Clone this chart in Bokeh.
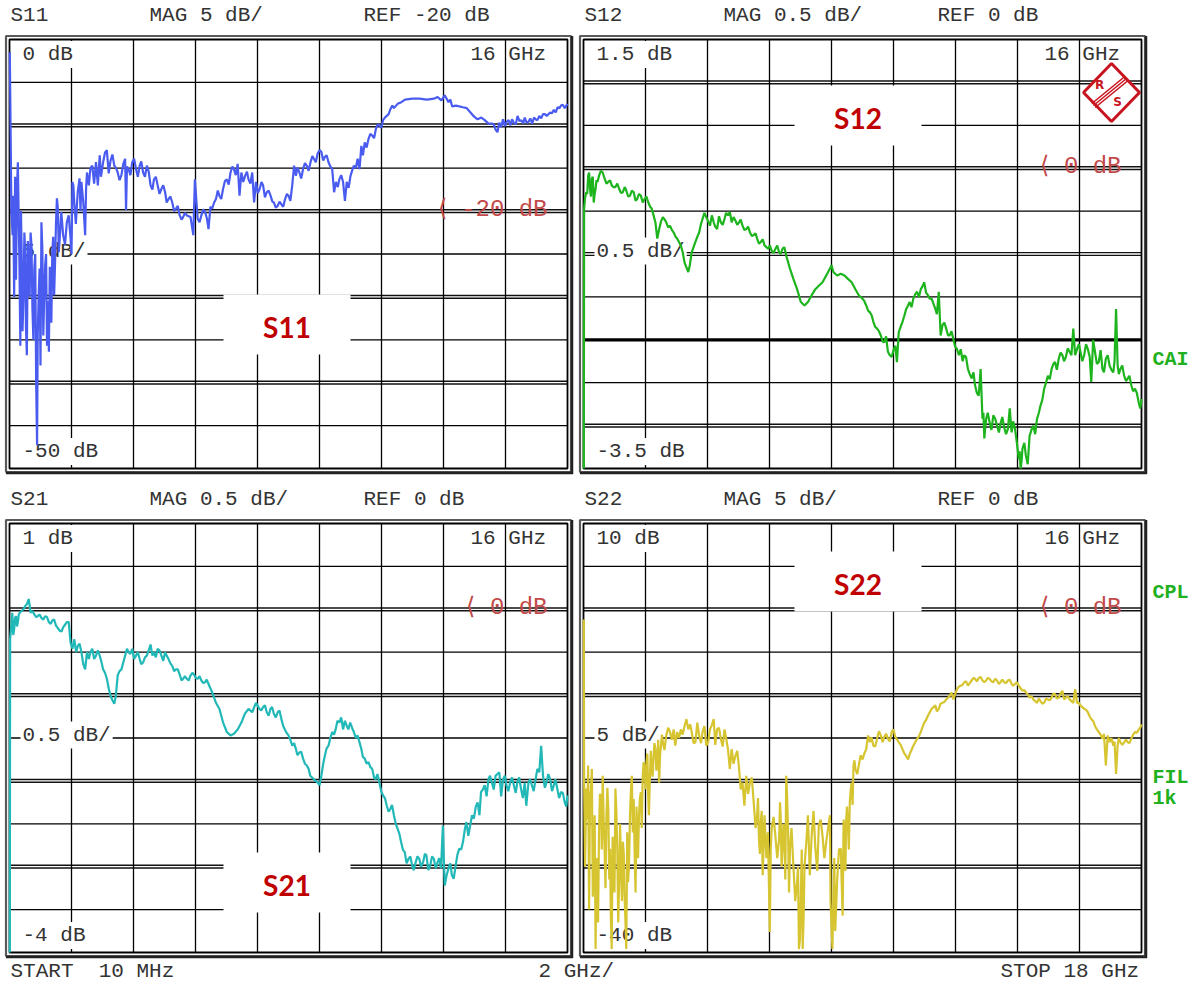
from bokeh.plotting import figure
from bokeh.models import Range1d, Label
from bokeh.embed import file_html
from bokeh.resources import INLINE

# ---------------- data (frequency GHz, magnitude dB) ----------------
S11_POINTS = [
    (0.01, -1.5), (0.04, -12.0), (0.10, -22.8), (0.12, -18.2), (0.27, -14.3), (0.30, -21.7),
    (0.35, -35.7), (0.39, -24.4), (0.45, -30.2), (0.51, -25.2), (0.56, -36.8), (0.62, -26.0),
    (0.68, -22.5), (0.74, -31.4), (0.80, -26.7), (0.86, -40.0), (0.89, -47.3), (0.91, -34.5),
    (0.97, -26.7), (1.03, -21.3), (1.09, -34.5), (1.15, -26.3), (1.21, -35.7), (1.27, -36.4),
    (1.32, -29.8), (1.38, -24.8), (1.44, -29.8), (1.50, -21.3), (1.56, -19.7), (1.62, -23.2),
    (1.73, -22.8), (1.85, -21.3), (1.97, -23.2), (2.03, -16.6), (2.09, -19.0), (2.20, -17.8),
    (2.32, -16.6), (2.38, -19.0), (2.44, -22.8), (2.50, -15.5), (2.56, -17.0), (2.67, -14.7),
    (2.79, -14.3), (2.85, -17.0), (2.91, -13.5), (3.02, -14.3), (3.14, -12.9), (3.26, -14.1),
    (3.38, -14.7), (3.49, -15.5), (3.61, -15.8), (3.73, -13.9), (3.76, -19.9), (3.84, -15.1),
    (3.96, -14.3), (4.08, -15.1), (4.20, -14.7), (4.31, -15.5), (4.43, -14.7), (4.55, -17.0),
    (4.66, -16.3), (4.78, -17.0), (4.90, -17.4), (5.02, -17.8), (5.13, -18.6), (5.25, -19.0),
    (5.37, -19.7), (5.49, -20.5), (5.60, -20.7), (5.72, -20.5), (5.84, -20.7), (5.93, -22.8),
    (5.98, -16.3), (6.07, -20.9), (6.19, -20.5), (6.31, -20.1), (6.42, -22.1), (6.54, -19.7),
    (6.66, -18.6), (6.77, -18.2), (6.89, -17.4), (7.01, -16.3), (7.13, -15.5), (7.24, -15.1),
    (7.36, -14.5), (7.42, -18.2), (7.48, -15.5), (7.60, -15.9), (7.71, -16.3), (7.83, -15.5),
    (7.89, -19.0), (7.95, -16.6), (8.07, -17.4), (8.18, -17.0), (8.30, -17.8), (8.42, -18.2),
    (8.53, -19.0), (8.65, -19.4), (8.77, -19.2), (8.89, -18.6), (9.00, -18.2), (9.12, -17.0),
    (9.18, -14.7), (9.24, -15.9), (9.35, -15.5), (9.47, -15.1), (9.59, -14.7), (9.71, -14.3),
    (9.82, -13.9), (9.94, -13.3), (10.06, -13.1), (10.17, -13.7), (10.29, -14.3), (10.41, -15.1),
    (10.47, -17.8), (10.53, -16.6), (10.64, -16.3), (10.76, -16.6), (10.82, -18.8), (10.88, -16.6),
    (11.00, -15.9), (11.11, -14.7), (11.23, -13.9), (11.29, -15.1), (11.35, -12.4), (11.40, -13.5),
    (11.46, -12.0), (11.58, -11.6), (11.70, -11.2), (11.82, -10.4), (11.93, -10.0), (12.05, -9.4),
    (12.17, -8.9), (12.29, -8.1), (12.35, -7.7), (12.40, -8.0), (12.52, -7.5), (12.64, -7.3),
    (12.76, -7.0), (12.99, -6.9), (13.23, -6.9), (13.46, -7.0), (13.69, -6.9), (13.81, -6.7),
    (13.93, -7.1), (14.04, -6.5), (14.16, -7.3), (14.40, -7.7), (14.63, -7.9), (14.87, -8.5),
    (15.10, -9.3), (15.33, -9.4), (15.57, -9.8), (15.74, -10.8), (15.80, -9.7), (16.04, -9.6),
    (16.27, -9.7), (16.39, -8.9), (16.51, -9.4), (16.74, -9.6), (16.97, -9.3), (17.21, -8.7),
    (17.44, -8.5), (17.68, -7.9), (17.79, -7.7), (18.00, -7.5),
]
S11_RIPPLE = [
    (0.06, -20.0), (0.15, -30.0), (0.18, -16.0), (0.21, -28.0), (0.24, -17.5), (0.32, -26.0),
    (0.37, -20.0), (0.42, -34.0), (0.48, -22.5), (0.53, -33.5), (0.59, -23.5), (0.65, -30.0),
    (0.71, -24.0), (0.77, -35.0), (0.83, -25.0), (0.94, -30.0), (1.00, -38.0), (1.06, -24.5),
    (1.12, -30.0), (1.18, -25.0), (1.24, -30.5), (1.30, -26.5), (1.35, -33.0), (1.41, -23.0),
    (1.47, -26.0), (1.53, -18.5), (1.59, -24.8), (1.67, -20.1), (1.79, -23.9), (1.91, -20.5),
    (2.00, -25.0), (2.06, -17.0), (2.14, -21.5), (2.26, -16.2), (2.29, -20.0), (2.47, -17.4),
    (2.61, -15.0), (2.73, -16.8), (2.95, -16.0), (3.08, -13.2), (3.20, -15.6), (3.32, -13.4),
    (3.44, -15.0), (3.55, -16.4), (3.67, -14.5), (3.79, -14.8), (3.90, -15.8), (4.02, -13.9),
    (4.14, -16.0), (4.25, -14.2), (4.37, -16.0), (4.49, -15.4), (4.61, -17.5), (4.72, -16.0),
    (4.84, -18.0), (4.96, -17.0), (5.07, -19.0), (5.19, -18.3), (5.31, -20.0), (5.43, -19.4),
    (5.55, -21.0), (5.66, -20.2), (6.13, -21.3), (6.25, -19.8), (6.37, -20.9), (6.48, -19.5),
    (6.60, -19.0), (6.72, -17.6), (6.83, -18.6), (6.95, -16.5), (7.07, -16.9), (7.19, -14.8),
    (7.30, -15.8), (7.54, -16.6), (7.66, -15.4), (7.77, -16.8), (8.01, -17.9), (8.13, -16.6),
    (8.24, -18.4), (8.36, -17.6), (8.48, -18.9), (8.59, -19.6), (8.71, -18.9), (8.83, -19.5),
    (8.95, -18.0), (9.06, -18.8), (9.29, -14.9), (9.41, -16.2), (9.53, -14.4), (9.65, -15.3),
    (9.77, -13.6), (9.88, -14.3), (10.00, -12.9), (10.12, -14.1), (10.23, -13.5), (10.35, -14.8),
    (10.59, -17.2), (10.70, -15.8), (10.94, -17.3), (11.06, -15.2), (11.17, -15.0), (11.52, -12.6),
    (11.64, -11.0), (11.76, -11.5), (11.88, -9.9), (11.99, -10.3), (12.11, -9.1), (12.23, -8.7),
    (14.22, -7.0), (14.28, -7.8), (14.75, -8.0), (14.99, -9.0), (15.22, -9.1), (15.45, -9.8),
    (15.62, -9.9), (15.68, -10.5), (15.86, -10.2), (15.92, -9.3), (15.98, -10.1), (16.10, -9.4),
    (16.16, -10.0), (16.21, -9.3), (16.33, -9.9), (16.45, -9.5), (16.57, -9.8), (16.62, -9.1),
    (16.68, -9.7), (16.80, -9.2), (16.86, -9.8), (16.92, -9.1), (17.03, -9.4), (17.09, -8.9),
    (17.15, -9.2), (17.27, -8.7), (17.33, -8.9), (17.50, -8.6), (17.56, -8.2), (17.62, -8.5),
    (17.74, -8.0), (17.85, -7.6), (17.91, -8.0),
]

S12_POINTS = [
    (0.01, -3.50), (0.02, -0.47), (0.05, -0.35), (0.09, -0.28), (0.15, -0.09), (0.21, -0.24),
    (0.27, -0.12), (0.33, -0.40), (0.39, -0.24), (0.45, -0.16), (0.50, -0.09), (0.56, -0.03),
    (0.62, -0.05), (0.68, -0.12), (0.80, -0.16), (0.91, -0.20), (1.03, -0.22), (1.15, -0.24),
    (1.27, -0.28), (1.38, -0.26), (1.50, -0.32), (1.62, -0.28), (1.73, -0.36), (1.85, -0.32),
    (1.97, -0.36), (2.09, -0.40), (2.20, -0.47), (2.32, -0.63), (2.38, -0.82), (2.44, -0.71),
    (2.56, -0.57), (2.67, -0.63), (2.79, -0.67), (2.91, -0.75), (3.02, -0.82), (3.14, -0.90),
    (3.26, -1.10), (3.38, -1.21), (3.43, -1.13), (3.49, -0.98), (3.61, -0.86), (3.73, -0.75),
    (3.84, -0.59), (3.96, -0.57), (4.08, -0.67), (4.20, -0.63), (4.31, -0.71), (4.43, -0.63),
    (4.55, -0.59), (4.66, -0.55), (4.72, -0.51), (4.78, -0.63), (4.90, -0.61), (5.02, -0.63),
    (5.13, -0.67), (5.25, -0.71), (5.37, -0.75), (5.49, -0.78), (5.60, -0.82), (5.72, -0.86),
    (5.84, -0.90), (5.95, -0.94), (6.07, -0.96), (6.19, -0.94), (6.31, -0.98), (6.42, -0.94),
    (6.54, -1.02), (6.66, -1.17), (6.77, -1.29), (6.89, -1.41), (7.01, -1.56), (7.13, -1.60),
    (7.24, -1.56), (7.36, -1.48), (7.48, -1.41), (7.59, -1.37), (7.71, -1.33), (7.83, -1.25),
    (7.95, -1.17), (8.00, -1.13), (8.06, -1.21), (8.18, -1.25), (8.30, -1.23), (8.42, -1.25),
    (8.53, -1.29), (8.65, -1.33), (8.77, -1.41), (8.88, -1.48), (9.00, -1.52), (9.12, -1.60),
    (9.24, -1.68), (9.35, -1.79), (9.47, -1.87), (9.59, -1.95), (9.70, -2.03), (9.82, -2.14),
    (9.94, -2.20), (10.06, -2.07), (10.11, -2.26), (10.17, -1.91), (10.29, -1.79), (10.41, -1.64),
    (10.52, -1.56), (10.64, -1.52), (10.76, -1.44), (10.88, -1.41), (10.99, -1.33), (11.11, -1.48),
    (11.23, -1.52), (11.35, -1.64), (11.46, -1.44), (11.52, -1.95), (11.58, -1.83), (11.70, -1.87),
    (11.81, -1.95), (11.93, -1.99), (12.05, -2.11), (12.11, -2.18), (12.17, -2.11), (12.28, -2.18),
    (12.40, -2.34), (12.52, -2.45), (12.63, -2.53), (12.75, -2.65), (12.81, -2.34), (12.87, -2.92),
    (12.93, -3.15), (12.99, -2.92), (13.10, -2.96), (13.22, -2.88), (13.34, -3.00), (13.45, -2.98),
    (13.57, -3.02), (13.69, -3.04), (13.75, -2.80), (13.81, -3.08), (13.92, -3.04), (14.04, -3.39),
    (14.10, -3.50), (14.16, -3.27), (14.27, -3.35), (14.39, -3.12), (14.51, -3.00), (14.63, -2.92),
    (14.74, -2.77), (14.86, -2.57), (14.98, -2.42), (15.10, -2.34), (15.21, -2.26), (15.33, -2.22),
    (15.45, -2.18), (15.56, -2.20), (15.68, -2.14), (15.80, -1.87), (15.86, -2.18), (15.92, -2.11),
    (16.03, -2.14), (16.15, -2.18), (16.27, -2.11), (16.38, -2.49), (16.50, -2.14), (16.62, -2.26),
    (16.74, -2.34), (16.85, -2.22), (16.97, -2.30), (17.09, -2.38), (17.18, -1.64), (17.23, -2.30),
    (17.32, -2.34), (17.44, -2.42), (17.56, -2.45), (17.67, -2.53), (17.79, -2.57), (17.91, -2.73),
    (18.00, -2.69),
]
S12_RIPPLE = [
    (0.12, -0.30), (0.18, -0.05), (0.24, -0.33), (0.30, -0.10), (0.36, -0.30), (0.42, -0.14),
    (0.74, -0.18), (0.86, -0.14), (0.97, -0.22), (1.09, -0.18), (1.21, -0.29), (1.33, -0.22),
    (1.44, -0.33), (1.56, -0.26), (1.68, -0.38), (1.79, -0.30), (1.91, -0.40), (2.03, -0.33),
    (2.15, -0.45), (2.26, -0.55), (2.50, -0.62), (2.62, -0.60), (2.73, -0.69), (2.85, -0.72),
    (2.97, -0.80), (3.08, -0.86), (3.20, -0.98), (3.67, -0.80), (3.79, -0.65), (3.90, -0.52),
    (4.02, -0.62), (4.14, -0.55), (4.25, -0.68), (4.37, -0.56), (4.49, -0.66), (4.60, -0.52),
    (4.84, -0.57), (4.96, -0.66), (5.07, -0.60), (5.19, -0.72), (5.31, -0.68), (5.43, -0.79),
    (5.55, -0.76), (5.66, -0.88), (5.78, -0.83), (5.90, -0.92), (6.01, -0.90), (6.13, -0.99),
    (6.25, -0.90), (6.36, -1.00), (6.48, -0.92), (9.06, -1.55), (9.18, -1.66), (9.30, -1.72),
    (9.41, -1.85), (9.53, -1.90), (9.65, -2.02), (9.76, -1.96), (9.88, -2.18), (10.00, -2.12),
    (10.23, -1.85), (10.35, -1.72), (10.47, -1.60), (10.58, -1.62), (10.70, -1.47), (10.82, -1.50),
    (10.93, -1.38), (11.05, -1.45), (11.17, -1.52), (11.29, -1.58), (11.40, -1.70), (11.64, -1.80),
    (11.76, -1.95), (11.87, -1.90), (11.99, -2.08), (12.23, -2.25), (12.34, -2.20), (12.46, -2.40),
    (12.58, -2.38), (12.69, -2.62), (12.90, -2.85), (12.96, -3.02), (13.04, -2.85), (13.16, -3.05),
    (13.28, -2.92), (13.40, -3.08), (13.51, -2.90), (13.63, -3.10), (13.86, -2.95), (13.98, -3.20),
    (14.07, -3.30), (14.13, -3.42), (14.22, -3.20), (14.33, -3.45), (14.45, -3.05), (14.57, -3.10),
    (14.69, -2.85), (14.80, -2.70), (14.92, -2.50), (15.04, -2.46), (15.16, -2.28), (15.27, -2.35),
    (15.39, -2.15), (15.50, -2.25), (15.62, -2.10), (15.74, -2.18), (15.98, -2.05), (16.09, -2.25),
    (16.21, -2.05), (16.33, -2.20), (16.44, -2.00), (16.56, -2.28), (16.68, -2.12), (16.79, -2.38),
    (16.91, -2.18), (17.03, -2.35), (17.13, -2.25), (17.27, -2.40), (17.38, -2.30), (17.50, -2.48),
    (17.61, -2.42), (17.73, -2.60), (17.85, -2.62), (17.96, -2.80),
]

S21_POINTS = [
    (0.01, -4.00), (0.02, -0.35), (0.09, -0.04), (0.15, -0.23), (0.21, -0.08), (0.27, -0.15),
    (0.33, -0.04), (0.45, 0.00), (0.56, 0.06), (0.62, 0.12), (0.68, -0.04), (0.80, -0.06),
    (0.91, -0.08), (1.03, -0.10), (1.15, -0.08), (1.27, -0.15), (1.38, -0.13), (1.50, -0.19),
    (1.62, -0.25), (1.73, -0.21), (1.85, -0.15), (1.91, -0.15), (1.97, -0.39), (2.09, -0.35),
    (2.20, -0.43), (2.32, -0.50), (2.44, -0.70), (2.50, -0.50), (2.56, -0.58), (2.67, -0.46),
    (2.79, -0.54), (2.91, -0.54), (3.02, -0.70), (3.14, -0.81), (3.26, -1.01), (3.38, -1.10),
    (3.43, -1.01), (3.49, -0.77), (3.61, -0.70), (3.73, -0.54), (3.79, -0.46), (3.84, -0.50),
    (3.96, -0.46), (4.08, -0.54), (4.20, -0.58), (4.31, -0.62), (4.43, -0.54), (4.55, -0.41),
    (4.61, -0.54), (4.66, -0.50), (4.78, -0.46), (4.90, -0.54), (5.02, -0.50), (5.13, -0.58),
    (5.25, -0.66), (5.37, -0.70), (5.49, -0.76), (5.60, -0.81), (5.72, -0.81), (5.84, -0.77),
    (5.95, -0.76), (6.07, -0.81), (6.19, -0.83), (6.31, -0.85), (6.42, -0.87), (6.54, -0.97),
    (6.66, -1.09), (6.77, -1.16), (6.89, -1.32), (7.01, -1.43), (7.13, -1.47), (7.24, -1.45),
    (7.36, -1.40), (7.48, -1.32), (7.59, -1.22), (7.71, -1.16), (7.83, -1.20), (7.95, -1.09),
    (8.06, -1.16), (8.18, -1.14), (8.30, -1.20), (8.42, -1.16), (8.53, -1.22), (8.65, -1.20),
    (8.77, -1.28), (8.88, -1.40), (9.00, -1.47), (9.12, -1.59), (9.24, -1.63), (9.35, -1.67),
    (9.47, -1.74), (9.59, -1.82), (9.70, -1.94), (9.82, -1.98), (9.94, -2.02), (10.00, -2.05),
    (10.06, -1.94), (10.17, -1.71), (10.29, -1.59), (10.41, -1.43), (10.52, -1.40), (10.64, -1.32),
    (10.70, -1.26), (10.76, -1.40), (10.88, -1.36), (10.99, -1.32), (11.11, -1.43), (11.23, -1.47),
    (11.35, -1.63), (11.46, -1.74), (11.58, -1.78), (11.70, -1.86), (11.81, -1.98), (11.93, -2.02),
    (12.05, -2.17), (12.17, -2.29), (12.28, -2.33), (12.40, -2.40), (12.52, -2.56), (12.63, -2.71),
    (12.75, -2.83), (12.87, -2.91), (12.99, -2.99), (13.10, -2.95), (13.22, -2.91), (13.34, -2.95),
    (13.45, -2.87), (13.57, -2.99), (13.69, -2.91), (13.81, -2.95), (13.92, -3.02), (13.98, -2.52),
    (14.04, -3.22), (14.16, -3.02), (14.27, -3.10), (14.39, -2.99), (14.51, -2.79), (14.63, -2.71),
    (14.74, -2.48), (14.86, -2.52), (14.98, -2.44), (15.10, -2.25), (15.21, -2.13), (15.33, -2.05),
    (15.45, -1.98), (15.56, -2.02), (15.68, -1.94), (15.80, -1.90), (15.92, -1.98), (16.03, -2.05),
    (16.15, -2.02), (16.27, -2.05), (16.38, -2.02), (16.50, -2.09), (16.62, -2.02), (16.67, -2.29),
    (16.74, -2.02), (16.85, -2.05), (16.97, -1.98), (17.09, -1.90), (17.15, -1.59), (17.21, -1.94),
    (17.32, -2.02), (17.44, -1.98), (17.56, -2.05), (17.67, -2.09), (17.79, -2.13), (17.91, -2.25),
    (18.00, -2.17),
]
S21_RIPPLE = [
    (0.12, -0.30), (0.18, -0.10), (0.24, -0.20), (0.30, -0.06), (0.39, -0.02), (0.51, 0.04),
    (0.74, -0.02), (0.86, -0.09), (0.97, -0.06), (1.09, -0.12), (1.21, -0.09), (1.33, -0.17),
    (1.44, -0.12), (1.56, -0.22), (1.68, -0.26), (1.79, -0.18), (2.03, -0.46), (2.15, -0.50),
    (2.26, -0.40), (2.38, -0.64), (2.61, -0.50), (2.73, -0.58), (2.85, -0.48), (2.97, -0.62),
    (3.08, -0.74), (3.20, -0.92), (3.32, -1.06), (3.55, -0.72), (3.67, -0.62), (3.90, -0.52),
    (4.02, -0.58), (4.14, -0.50), (4.25, -0.64), (4.37, -0.56), (4.49, -0.48), (4.72, -0.56),
    (4.84, -0.48), (4.96, -0.60), (5.07, -0.54), (5.19, -0.63), (5.31, -0.72), (5.43, -0.70),
    (5.55, -0.83), (5.66, -0.78), (5.78, -0.83), (5.90, -0.74), (6.01, -0.80), (6.13, -0.78),
    (6.25, -0.86), (6.36, -0.82), (6.48, -0.92), (8.00, -1.12), (8.12, -1.18), (8.24, -1.12),
    (8.36, -1.24), (8.47, -1.14), (8.59, -1.26), (8.71, -1.18), (8.83, -1.36), (8.94, -1.44),
    (9.06, -1.52), (9.18, -1.56), (9.29, -1.70), (9.41, -1.66), (9.53, -1.80), (9.65, -1.86),
    (9.76, -1.96), (10.12, -1.80), (10.23, -1.62), (10.35, -1.50), (10.47, -1.46), (10.58, -1.30),
    (10.82, -1.30), (10.93, -1.40), (11.05, -1.38), (11.17, -1.50), (11.29, -1.55), (11.40, -1.72),
    (11.52, -1.80), (11.64, -1.84), (11.76, -1.96), (11.87, -1.92), (11.99, -2.12), (12.11, -2.20),
    (12.23, -2.36), (12.34, -2.28), (12.46, -2.50), (12.58, -2.62), (12.69, -2.80), (12.81, -2.96),
    (12.93, -2.88), (13.04, -3.04), (13.16, -2.88), (13.28, -3.00), (13.40, -2.85), (13.51, -3.04),
    (13.63, -2.88), (13.75, -3.02), (13.86, -2.90), (14.01, -2.90), (14.10, -3.10), (14.22, -2.96),
    (14.33, -3.14), (14.45, -2.86), (14.57, -2.80), (14.69, -2.56), (14.80, -2.64), (14.92, -2.40),
    (15.04, -2.30), (15.16, -2.40), (15.27, -2.10), (15.39, -2.18), (15.50, -1.94), (15.62, -2.10),
    (15.74, -1.92), (15.86, -2.18), (15.98, -1.94), (16.09, -2.12), (16.21, -1.96), (16.33, -2.14),
    (16.44, -1.96), (16.56, -2.20), (16.79, -1.98), (16.91, -2.12), (17.03, -1.86), (17.27, -2.08),
    (17.38, -1.92), (17.50, -2.12), (17.61, -1.98), (17.73, -2.20), (17.85, -2.14), (17.96, -2.30),
]

S22_POINTS = [
    (0.01, -1.2), (0.02, -20.2), (0.09, -20.9), (0.15, -18.2), (0.21, -22.1), (0.27, -18.6),
    (0.33, -27.9), (0.39, -39.6), (0.45, -31.8), (0.50, -26.0), (0.56, -22.1), (0.62, -19.4),
    (0.68, -27.9), (0.74, -24.0), (0.80, -23.3), (0.86, -27.9), (0.91, -39.6), (0.97, -29.9),
    (1.03, -20.9), (1.09, -27.9), (1.15, -31.8), (1.21, -29.9), (1.27, -27.1), (1.32, -33.0),
    (1.38, -39.6), (1.44, -31.8), (1.50, -24.0), (1.56, -19.4), (1.62, -22.1), (1.68, -33.0),
    (1.73, -26.4), (1.79, -24.0), (1.85, -21.3), (1.91, -19.4), (1.97, -18.6), (2.03, -17.8),
    (2.09, -22.1), (2.14, -19.8), (2.20, -18.6), (2.26, -17.1), (2.32, -16.3), (2.38, -17.8),
    (2.44, -20.2), (2.50, -15.9), (2.56, -15.5), (2.67, -14.7), (2.79, -14.3), (2.91, -14.0),
    (2.96, -15.9), (3.02, -14.3), (3.14, -14.0), (3.26, -13.6), (3.32, -12.8), (3.38, -14.0),
    (3.49, -14.3), (3.61, -15.5), (3.73, -14.7), (3.84, -14.3), (3.96, -15.9), (4.08, -14.0),
    (4.20, -12.8), (4.31, -14.0), (4.43, -15.1), (4.55, -14.0), (4.66, -16.3), (4.72, -18.6),
    (4.78, -16.3), (4.90, -17.1), (5.02, -18.6), (5.13, -20.2), (5.19, -22.9), (5.25, -19.4),
    (5.37, -20.2), (5.49, -22.5), (5.60, -24.0), (5.66, -26.8), (5.72, -24.8), (5.78, -31.0),
    (5.84, -24.0), (5.95, -26.0), (6.01, -37.6), (6.07, -25.6), (6.19, -26.4), (6.31, -26.8),
    (6.36, -24.0), (6.42, -27.9), (6.48, -26.4), (6.54, -19.4), (6.60, -26.0), (6.66, -27.9),
    (6.77, -29.9), (6.89, -31.8), (6.95, -39.6), (7.01, -33.7), (7.07, -39.6), (7.13, -29.9),
    (7.24, -24.0), (7.36, -26.4), (7.48, -27.9), (7.59, -25.2), (7.71, -26.4), (7.83, -27.1),
    (7.95, -24.0), (7.97, -34.1), (8.03, -39.6), (8.06, -33.7), (8.18, -31.8), (8.30, -27.9),
    (8.36, -35.7), (8.42, -26.4), (8.47, -24.8), (8.53, -25.2), (8.59, -22.5), (8.65, -20.2),
    (8.71, -18.2), (8.77, -18.6), (8.88, -18.2), (9.00, -17.5), (9.12, -16.3), (9.18, -14.7),
    (9.24, -15.5), (9.35, -15.9), (9.47, -15.1), (9.59, -14.7), (9.70, -14.9), (9.82, -15.1),
    (9.94, -14.3), (10.06, -14.9), (10.17, -15.5), (10.29, -16.3), (10.41, -17.1), (10.47, -17.5),
    (10.52, -16.9), (10.64, -15.9), (10.76, -15.1), (10.88, -14.3), (10.99, -13.2), (11.11, -12.4),
    (11.23, -11.6), (11.35, -11.2), (11.46, -11.6), (11.58, -10.9), (11.70, -10.5), (11.81, -10.1),
    (11.87, -9.7), (11.93, -10.5), (12.05, -9.3), (12.17, -8.9), (12.28, -8.5), (12.40, -8.9),
    (12.52, -8.3), (12.63, -8.1), (12.75, -8.0), (12.87, -8.3), (12.99, -8.3), (13.10, -8.1),
    (13.22, -8.5), (13.34, -8.3), (13.45, -8.5), (13.57, -8.5), (13.69, -8.3), (13.81, -8.7),
    (13.92, -8.7), (14.04, -8.9), (14.16, -9.5), (14.27, -9.7), (14.39, -10.3), (14.51, -10.5),
    (14.63, -10.9), (14.74, -10.7), (14.86, -10.9), (14.98, -10.5), (15.10, -10.3), (15.21, -9.9),
    (15.33, -10.3), (15.45, -9.5), (15.56, -10.3), (15.68, -10.5), (15.80, -10.9), (15.86, -9.3),
    (15.92, -10.9), (16.03, -11.2), (16.15, -11.6), (16.27, -12.0), (16.38, -12.8), (16.50, -13.6),
    (16.62, -14.3), (16.74, -15.1), (16.85, -18.2), (16.91, -14.7), (16.97, -15.5), (17.09, -15.9),
    (17.18, -19.2), (17.23, -15.9), (17.32, -15.5), (17.44, -15.5), (17.56, -15.5), (17.67, -15.1),
    (17.79, -14.3), (17.91, -14.0), (18.00, -13.4),
]
S22_RIPPLE = [
    (0.05, -30.0), (0.12, -24.5), (0.18, -35.0), (0.24, -21.0), (0.30, -33.5), (0.36, -24.0),
    (0.42, -29.0), (0.47, -36.5), (0.53, -21.5), (0.59, -28.0), (0.65, -24.5), (0.71, -32.5),
    (0.77, -20.8), (0.83, -31.5), (0.88, -35.5), (0.94, -26.5), (1.00, -33.0), (1.06, -23.5),
    (1.12, -36.5), (1.18, -25.0), (1.24, -34.0), (1.30, -28.5), (1.35, -36.0), (1.41, -26.0),
    (1.47, -29.5), (1.53, -21.0), (1.59, -26.0), (1.65, -28.5), (1.71, -23.0), (1.76, -29.0),
    (1.82, -22.0), (1.88, -25.5), (1.94, -17.8), (2.00, -21.0), (2.06, -16.8), (2.11, -24.0),
    (2.17, -16.5), (2.23, -19.5), (2.29, -15.6), (2.35, -18.8), (2.41, -15.2), (2.47, -17.0),
    (2.53, -14.6), (2.61, -16.4), (2.73, -13.8), (2.85, -15.2), (3.08, -15.0), (3.20, -14.6),
    (3.44, -13.4), (3.55, -15.6), (3.67, -13.2), (3.79, -15.6), (3.90, -13.6), (4.02, -15.5),
    (4.14, -13.5), (4.25, -15.8), (4.37, -13.8), (4.49, -16.0), (4.60, -15.0), (4.84, -18.0),
    (4.96, -16.5), (5.07, -21.0), (5.31, -21.5), (5.43, -19.6), (5.55, -25.5), (5.63, -22.0),
    (5.69, -28.5), (5.75, -23.5), (5.81, -27.5), (5.90, -29.0), (6.04, -28.0), (6.13, -24.2),
    (6.25, -29.0), (6.34, -22.5), (6.39, -30.0), (6.45, -25.0), (6.51, -31.5), (6.57, -22.0),
    (6.63, -33.0), (6.71, -25.5), (6.83, -34.0), (6.92, -30.0), (6.98, -38.5), (7.04, -28.0),
    (7.10, -36.0), (7.19, -27.0), (7.30, -31.0), (7.42, -23.5), (7.54, -30.5), (7.65, -24.5),
    (7.77, -29.0), (7.89, -25.5), (8.00, -37.0), (8.09, -29.0), (8.12, -37.5), (8.24, -28.0),
    (8.33, -32.0), (8.39, -24.5), (8.45, -30.5), (8.50, -23.0), (8.56, -28.0), (8.62, -21.0),
    (8.68, -22.8), (8.74, -17.6), (8.83, -19.2), (8.94, -17.0), (9.06, -16.8), (9.29, -14.9),
    (9.41, -16.0), (9.53, -14.2), (9.65, -15.5), (9.76, -14.5), (9.88, -15.4), (10.00, -14.0),
    (10.12, -15.2), (10.23, -15.8), (10.35, -16.8), (10.58, -16.4), (10.70, -15.5), (10.82, -14.8),
    (10.93, -13.8), (11.05, -12.9), (11.17, -12.0), (11.29, -11.4), (11.40, -11.9), (11.52, -11.0),
    (11.64, -10.8), (11.76, -10.3), (11.99, -9.9), (12.11, -9.0), (12.23, -8.8), (12.34, -8.4),
    (12.46, -8.6), (12.58, -8.0), (12.69, -8.4), (12.81, -7.9), (12.93, -8.5), (13.04, -8.0),
    (13.16, -8.4), (13.28, -8.1), (13.40, -8.7), (13.51, -8.2), (13.63, -8.6), (13.75, -8.2),
    (13.86, -8.9), (13.98, -8.5), (14.10, -9.2), (14.22, -9.4), (14.33, -9.9), (14.45, -10.1),
    (14.57, -10.7), (14.69, -10.4), (14.80, -11.0), (14.92, -10.4), (15.04, -10.6), (15.16, -9.8),
    (15.27, -10.4), (15.39, -9.8), (15.50, -10.5), (15.62, -10.1), (15.74, -10.7), (15.98, -10.9),
    (16.09, -11.4), (16.21, -11.7), (16.33, -12.5), (16.44, -13.0), (16.56, -14.0), (16.68, -14.6),
    (16.79, -14.5), (17.03, -15.0), (17.13, -15.4), (17.27, -15.0), (17.38, -15.8), (17.50, -15.2),
    (17.61, -15.6), (17.73, -14.6), (17.85, -14.4), (17.96, -13.8),
]


def split(points):
    pts = sorted(points)
    return [q[0] for q in pts], [q[1] for q in pts]


s11_f, s11_db = split(S11_POINTS + S11_RIPPLE)
s12_f, s12_db = split(S12_POINTS + S12_RIPPLE)
s21_f, s21_db = split(S21_POINTS + S21_RIPPLE)
s22_f, s22_db = split(S22_POINTS + S22_RIPPLE)

F_START, F_STOP, F_DIV = 0.0, 18.0, 2.0

# ---------------- page layout (screen px; canvas starts at the window corner) ----------------
X0, X1, Y0, Y1 = 0, 1194, 0, 984
MONO = "Liberation Mono"
TXT = "#333333"
NB = "\u00a0"

p = figure(width=X1 - X0, height=Y1 - Y0,
           x_range=Range1d(X0, X1), y_range=Range1d(Y1, Y0),
           output_backend="svg", toolbar_location=None,
           x_axis_location=None, y_axis_location=None,
           min_border=0, min_border_left=0, min_border_right=0,
           min_border_top=0, min_border_bottom=0,
           outline_line_color=None, background_fill_color="white",
           border_fill_color="white")
p.grid.visible = False

PANELS = [
    dict(key="s11", px=(9, 567), py=(39, 468), top=0.0, bottom=-50.0,
         majors=[-10, -20, -30, -40], thick=[], ref=-20, color="#4a5cf0",
         f=s11_f, v=s11_db, labels=("0 dB", "5 dB/", "-50 dB"), marker="\u27e8 -20 dB",
         head=("S11", "MAG 5 dB/", "REF -20 dB"), name="S11", box=(286.5, 324)),
    dict(key="s12", px=(583, 1141), py=(39, 468), top=1.5, bottom=-3.5,
         majors=[1.0, 0.0, -1.0, -3.0], thick=[-2.0], ref=0.0, color="#1db41d",
         f=s12_f, v=s12_db, labels=("1.5 dB", "0.5 dB/", "-3.5 dB"), marker="\u27e8 0 dB",
         head=("S12", "MAG 0.5 dB/", "REF 0 dB"), name="S12", box=(857.5, 115)),
    dict(key="s21", px=(9, 567), py=(523, 952), top=1.0, bottom=-4.0,
         majors=[0.0, -1.0, -2.0, -3.0], thick=[], ref=0.0, color="#22b8b8",
         f=s21_f, v=s21_db, labels=("1 dB", "0.5 dB/", "-4 dB"), marker="\u27e8 0 dB",
         head=("S21", "MAG 0.5 dB/", "REF 0 dB"), name="S21", box=(286.5, 882)),
    dict(key="s22", px=(583, 1141), py=(523, 952), top=10.0, bottom=-40.0,
         majors=[0.0, -10.0, -20.0, -30.0], thick=[], ref=0.0, color="#d6c530",
         f=s22_f, v=s22_db, labels=("10 dB", "5 dB/", "-40 dB"), marker="\u27e8 0 dB",
         head=("S22", "MAG 5 dB/", "REF 0 dB"), name="S22", box=(857.5, 581)),
]


def lbl(x, y, text, size="21px", color=TXT, align="left", font=MONO, style="normal",
        level="annotation", bg=None, **kw):
    l = Label(x=x, y=y, text=text.replace(" ", NB), text_font=font, text_font_size=size,
              text_color=color, text_align=align, text_baseline="middle",
              text_font_style=style, level=level, **kw)
    if bg is not None:
        l.background_fill_color = bg
        l.padding = 2
    p.add_layout(l)
    return l


for P in PANELS:
    px0, px1 = P["px"]
    py0, py1 = P["py"]
    vt, vb = P["top"], P["bottom"]
    kx = (F_STOP - F_START) / (px1 - px0)
    ky = (vt - vb) / (py1 - py0)
    xn, yn = "x_" + P["key"], "y_" + P["key"]
    p.extra_x_ranges[xn] = Range1d(F_START - (px0 - X0) * kx, F_STOP + (X1 - px1) * kx)
    p.extra_y_ranges[yn] = Range1d(vb - (Y1 - py1) * ky, vt + (py0 - Y0) * ky)
    step = (vt - vb) / 10.0
    levels = [vt - k * step for k in range(1, 10)]
    minors = [y for y in levels if all(abs(y - m) > 1e-6 for m in P["majors"] + P["thick"])]

    r = p.segment(x0=[F_START] * len(minors), x1=[F_STOP] * len(minors), y0=minors, y1=minors,
                  x_range_name=xn, y_range_name=yn, line_color="black", line_width=1.3)
    r.level = "image"
    r = p.segment(x0=[F_START] * len(P["majors"]), x1=[F_STOP] * len(P["majors"]),
                  y0=P["majors"], y1=P["majors"], x_range_name=xn, y_range_name=yn,
                  line_color="#111111", line_width=4.2)
    r.level = "image"
    r = p.segment(x0=[F_START] * len(P["majors"]), x1=[F_STOP] * len(P["majors"]),
                  y0=P["majors"], y1=P["majors"], x_range_name=xn, y_range_name=yn,
                  line_color="white", line_width=1.3)
    r.level = "image"
    if P["thick"]:
        r = p.segment(x0=[F_START] * len(P["thick"]), x1=[F_STOP] * len(P["thick"]),
                      y0=P["thick"], y1=P["thick"], x_range_name=xn, y_range_name=yn,
                      line_color="black", line_width=3.2)
        r.level = "image"
    xs = [F_START + k * F_DIV for k in range(1, 9)]
    r = p.segment(x0=xs, x1=xs, y0=[vb] * len(xs), y1=[vt] * len(xs),
                  x_range_name=xn, y_range_name=yn, line_color="black", line_width=1.3)
    r.level = "image"
    # frame: inner black, outer grey with darker shadow on right/bottom
    r = p.quad(left=[F_START], right=[F_STOP], top=[vt], bottom=[vb], x_range_name=xn,
               y_range_name=yn, fill_color=None, line_color="black", line_width=1.8)
    r.level = "image"
    r = p.quad(left=[px0 - 3.5], right=[px1 + 3.5], top=[py0 - 3.5], bottom=[py1 + 3.5],
               fill_color=None, line_color="#5a5a5a", line_width=2.2)
    r.level = "image"
    r = p.segment(x0=[px1 + 4.5, px0 - 3.5], x1=[px1 + 4.5, px1 + 5.5],
                  y0=[py0 - 3.5, py1 + 4.5], y1=[py1 + 5.5, py1 + 4.5],
                  line_color="#222222", line_width=2.5)
    r.level = "image"

    # small in-panel labels (under the trace)
    t_top, t_mid, t_bot = P["labels"]
    lbl(px0 + 11, py0 + 15, t_top, level="underlay", bg="white")
    lbl(px0 + 11, (py0 + py1) / 2 - 3, t_mid, level="underlay", bg="white")
    lbl(px0 + 11, py1 - 17, t_bot, level="underlay", bg="white")
    lbl(px1 - 97, py0 + 15, "16 GHz", level="underlay")

    # reference marker
    mk = Label(x=px1 - 20, y=P["ref"], y_range_name=yn, text=P["marker"].replace(" ", NB),
               text_font=MONO, text_font_size="24px", text_color="#c24a4a",
               text_align="right", text_baseline="middle", y_offset=2)
    p.add_layout(mk)

    # header line
    h1, h2, h3 = P["head"]
    lbl(px0 + 1, py0 - 24, h1)
    lbl(px0 + 140, py0 - 24, h2)
    lbl(px0 + 354, py0 - 24, h3)

    # trace
    p.line(P["f"], P["v"], x_range_name=xn, y_range_name=yn, line_color=P["color"],
           line_width=2.2)

    # big name label with white box
    bx, by = P["box"]
    r = p.quad(left=[bx - 63.5], right=[bx + 63.5], top=[by - 30], bottom=[by + 30],
               fill_color="white", line_color=None)
    r.level = "annotation"
    lbl(bx, by + 2, P["name"], size="28px", color="#c00000", align="center", font="Lato",
        style="bold", level="overlay")

# footer
lbl(10, 971, "START  10 MHz")
lbl(538, 971, "2 GHz/")
lbl(1000, 971, "STOP 18 GHz")

# right-hand status texts
GREEN = "#20b020"
lbl(1152, 359, "CAI", size="20px", color=GREEN, style="bold")
lbl(1152, 592, "CPL", size="20px", color=GREEN, style="bold")
lbl(1152, 777, "FIL", size="20px", color=GREEN, style="bold")
lbl(1152, 798, "1k", size="20px", color=GREEN, style="bold")

# R&S logo
cx, cy = 1111, 92
RED = "#c8141e"
r = p.patch([cx - 28, cx, cx + 28, cx], [cy, cy - 29, cy, cy + 29], fill_color="white",
            line_color=RED, line_width=3)
r.level = "annotation"
offs = [-2.6, 0, 2.6]
r = p.multi_line([[cx + 15 + o * 0.63, cx - 18 + o * 0.63] for o in offs],
                 [[cy - 14 + o * 0.77, cy + 13 + o * 0.77] for o in offs],
                 line_color=RED, line_width=1.6)
r.level = "annotation"
lbl(cx - 12, cy - 8, "R", size="12px", color=RED, align="center", font="DejaVu Sans",
    style="bold", level="overlay")
lbl(cx + 6, cy + 9, "S", size="12px", color=RED, align="center", font="DejaVu Sans",
    style="bold", level="overlay")

open("out.html", "w").write(file_html(p, INLINE))
